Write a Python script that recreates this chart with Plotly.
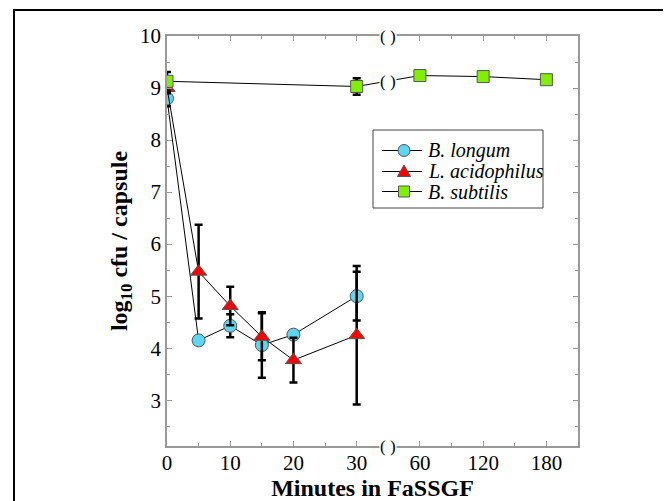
import numpy as np
import plotly.graph_objects as go

# ---- data ----
minutes = [0, 5, 10, 15, 20, 30]
longum = [8.80, 4.15, 4.43, 4.06, 4.26, 5.00]
longum_err = [0.15, 0.0, 0.22, 0.63, 0.0, 0.47]
acido = [9.00, 5.47, 4.81, 4.22, 3.77, 4.25]
acido_err = [0.10, 0.90, 0.37, 0.45, 0.43, 1.33]
sub_minutes = [0, 30, 60, 120, 180]
subtilis = [9.13, 9.03, 9.24, 9.22, 9.16]
subtilis_err = [0.18, 0.16, 0.0, 0.08, 0.0]

series_names = ["B. longum", "L. acidophilus", "B. subtilis"]
series_colors = ["#5CD6F2", "#FF0000", "#80F000"]

tick_minutes = [0, 10, 20, 30, 60, 120, 180]
tick_labels = ["0", "10", "20", "30", "60", "120", "180"]

# broken-axis scale: minutes -> axis position
scale_minutes = [0, 30, 60, 120, 180]
scale_pos = [0, 30, 40, 50, 60]
BREAK_POS = 35


def pos(m):
    return list(np.interp(m, scale_minutes, scale_pos))


FONT = "Liberation Serif, Times New Roman, serif"
MK_LINE = dict(color="#555555", width=1)
ERR = dict(type="data", visible=True, color="black", thickness=2.5, width=4)

fig = go.Figure()
fig.add_trace(go.Scatter(
    x=pos(minutes), y=longum, name=series_names[0], mode="lines+markers",
    line=dict(color="black", width=1),
    marker=dict(symbol="circle", size=13, color=series_colors[0], line=MK_LINE),
    error_y=dict(array=longum_err, **ERR)))
fig.add_trace(go.Scatter(
    x=pos(minutes), y=acido, name=series_names[1], mode="lines+markers",
    line=dict(color="black", width=1),
    marker=dict(symbol="triangle-up", size=14, color=series_colors[1], line=MK_LINE),
    error_y=dict(array=acido_err, **ERR)))
fig.add_trace(go.Scatter(
    x=pos(sub_minutes), y=subtilis, name=series_names[2], mode="lines+markers",
    line=dict(color="black", width=1),
    marker=dict(symbol="square", size=12, color=series_colors[2], line=MK_LINE),
    error_y=dict(array=subtilis_err, **ERR)))

OFF = 8  # page body margin
W, H = 671 - OFF, 501 - OFF
L, T = 167 - OFF, 36 - OFF
pw, ph = 411, 410
R, B = W - L - pw, H - T - ph


def px(x):  # screenshot pixel -> paper x
    return (x - OFF - L) / pw


def py(y):  # screenshot pixel -> paper y
    return 1 - (y - OFF - T) / ph


axis_common = dict(
    showline=True, linecolor="#999999", linewidth=1.5, mirror="ticks",
    ticks="inside", ticklen=5, tickcolor="#999999", tickwidth=1,
    showgrid=False, zeroline=False,
    tickfont=dict(family=FONT, size=21, color="black"),
)

fig.update_xaxes(
    range=[0, 65], tickvals=pos(tick_minutes), ticktext=tick_labels,
    minor=dict(dtick=5, tick0=0, ticks="inside", ticklen=3, tickcolor="#999999"),
    ticklabelstandoff=-3,
    title=dict(text="<b>Minutes in FaSSGF</b>", font=dict(family=FONT, size=24, color="black"), standoff=0),
    **axis_common)
fig.update_yaxes(
    range=[2.12, 10], tickvals=[3, 4, 5, 6, 7, 8, 9, 10],
    minor=dict(dtick=0.5, tick0=0, ticks="inside", ticklen=3, tickcolor="#999999"),
    title=dict(text="<b>log<sub>10</sub> cfu / capsule</b>", font=dict(family=FONT, size=24, color="black"), standoff=6),
    **axis_common)

# axis-break marks
BRK = "(&nbsp;)"
for yv in (0, 1):
    fig.add_annotation(x=BREAK_POS, y=yv, xref="x", yref="paper", text=BRK, showarrow=False,
                       font=dict(family=FONT, size=17, color="black"), bgcolor="white",
                       borderpad=0, xanchor="center", yanchor="middle")
brk_y = float(np.interp(BREAK_POS, pos(sub_minutes), subtilis))
fig.add_annotation(x=BREAK_POS, y=brk_y, xref="x", yref="y", text=BRK, showarrow=False,
                   font=dict(family=FONT, size=17, color="black"), bgcolor="white",
                   borderpad=0, xanchor="center", yanchor="middle")

# outer frame
fig.add_shape(type="rect", xref="paper", yref="paper",
              x0=px(14), x1=px(700), y0=py(540), y1=py(10),
              line=dict(color="black", width=2), layer="below")

# ---- legend (box, sample line + symbol, label) ----
fig.add_shape(type="rect", xref="paper", yref="paper",
              x0=px(373), x1=px(543), y0=py(208), y1=py(130),
              line=dict(color="#444444", width=1), fillcolor="white")
leg_y = [150.5, 171.5, 191.5]
lx0, lx1, lxc, r = 382, 422, 404, 5.5
for i, yy in enumerate(leg_y):
    fig.add_shape(type="line", xref="paper", yref="paper",
                  x0=px(lx0), x1=px(lx1), y0=py(yy), y1=py(yy),
                  line=dict(color="black", width=1))
    if i == 0:
        fig.add_shape(type="circle", xref="paper", yref="paper",
                      x0=px(lxc - r - 0.5), x1=px(lxc + r + 0.5), y0=py(yy + r + 0.5), y1=py(yy - r - 0.5),
                      line=dict(color="#555555", width=1), fillcolor=series_colors[0])
    elif i == 1:
        path = "M {} {} L {} {} L {} {} Z".format(
            px(lxc - 6.5), py(yy + 5), px(lxc + 6.5), py(yy + 5), px(lxc), py(yy - 6.5))
        fig.add_shape(type="path", xref="paper", yref="paper", path=path,
                      line=dict(color="#555555", width=1), fillcolor=series_colors[1])
    else:
        fig.add_shape(type="rect", xref="paper", yref="paper",
                      x0=px(lxc - 5.5), x1=px(lxc + 5.5), y0=py(yy + 5.5), y1=py(yy - 5.5),
                      line=dict(color="#555555", width=1), fillcolor=series_colors[2])
    fig.add_annotation(x=px(426), y=py(yy), xref="paper", yref="paper",
                       text="<i>" + series_names[i] + "</i>", showarrow=False,
                       xanchor="left", yanchor="middle",
                       font=dict(family=FONT, size=20, color="black"))

fig.update_layout(
    width=W, height=H, margin=dict(l=L, r=R, t=T, b=B, autoexpand=False),
    paper_bgcolor="white", plot_bgcolor="white",
    font=dict(family=FONT, color="black"),
    showlegend=False,
)

fig.write_html("out.html")
